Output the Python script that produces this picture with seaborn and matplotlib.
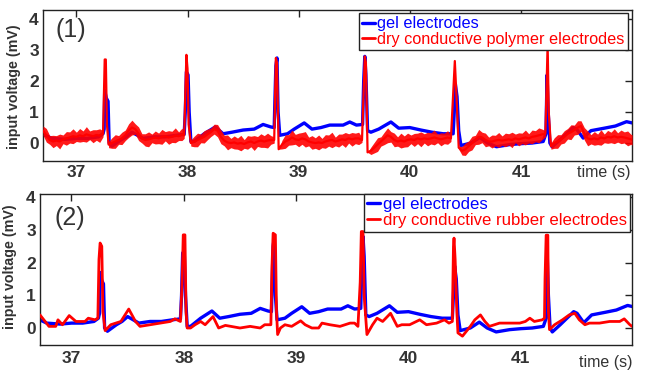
import matplotlib
matplotlib.use("Agg")
import numpy as np
import pandas as pd
import seaborn as sns
import matplotlib.pyplot as plt
from matplotlib.lines import Line2D

# ---------------- data ----------------
gel_t = [36.70, 36.78, 36.90, 37.00, 37.10, 37.20, 37.24, 37.25, 37.255, 37.27, 37.285, 37.295,
         37.32, 37.40, 37.45, 37.50, 37.55, 37.60, 37.70, 37.80, 37.90, 37.97, 37.98, 37.99,
         38.005, 38.015, 38.03, 38.06, 38.15, 38.25, 38.32, 38.40, 38.50, 38.60, 38.68, 38.75,
         38.78, 38.785, 38.795, 38.805, 38.815, 38.83, 38.90, 38.96, 39.05, 39.12, 39.20, 39.28,
         39.40, 39.46, 39.52, 39.575, 39.585, 39.595, 39.605, 39.62, 39.65, 39.72, 39.83, 39.90,
         40.00, 40.10, 40.20, 40.30, 40.39, 40.40, 40.41, 40.425, 40.44, 40.46, 40.55, 40.63,
         40.70, 40.78, 40.90, 41.00, 41.10, 41.20, 41.225, 41.235, 41.245, 41.26, 41.28, 41.35,
         41.47, 41.50, 41.56, 41.63, 41.75, 41.85, 41.95, 42.00]
gel_mv = [0.28, 0.15, 0.12, 0.15, 0.15, 0.20, 0.30, 0.45, 1.70, 1.45, 1.35, 0.00,
          -0.10, 0.10, 0.20, 0.35, 0.25, 0.15, 0.20, 0.20, 0.25, 0.28, 1.00, 2.30,
          2.20, 1.00, 0.05, 0.05, 0.30, 0.52, 0.30, 0.35, 0.42, 0.45, 0.60, 0.52,
          0.50, 1.20, 2.50, 2.75, 1.00, 0.25, 0.30, 0.45, 0.65, 0.45, 0.50, 0.58,
          0.58, 0.68, 0.58, 0.60, 2.00, 2.80, 2.20, 0.40, 0.35, 0.45, 0.68, 0.48,
          0.50, 0.42, 0.35, 0.30, 0.30, 1.00, 1.90, 1.50, 0.40, -0.08, 0.00, 0.18,
          0.00, -0.12, -0.05, -0.02, 0.00, 0.05, 0.30, 2.20, 1.00, 0.00, -0.12, 0.10,
          0.50, 0.45, 0.16, 0.40, 0.48, 0.55, 0.69, 0.65]

# dry conductive polymer electrodes: centre of the noisy trace and half-width of its noise band
polymer_t = [36.70, 36.73, 36.76, 36.79, 36.82, 36.85, 36.88, 36.91, 36.94, 36.97, 37.00, 37.03,
             37.06, 37.09, 37.12, 37.15, 37.18, 37.21, 37.24,
             37.255, 37.265, 37.275, 37.29,
             37.32, 37.35, 37.38, 37.41, 37.44, 37.47, 37.50, 37.53, 37.56, 37.59, 37.62, 37.65,
             37.68, 37.71, 37.74, 37.77, 37.80, 37.83, 37.86, 37.89, 37.92, 37.95, 37.97,
             37.99, 38.00, 38.01, 38.03,
             38.06, 38.09, 38.12, 38.15, 38.18, 38.21, 38.24, 38.27, 38.30, 38.33, 38.36, 38.39,
             38.42, 38.45, 38.48, 38.51, 38.54, 38.57, 38.60, 38.63, 38.66, 38.69, 38.72, 38.75, 38.78,
             38.795, 38.805, 38.82,
             38.85, 38.88, 38.91, 38.94, 38.97, 39.00, 39.03, 39.06, 39.09, 39.12, 39.15, 39.18,
             39.21, 39.24, 39.27, 39.30, 39.33, 39.36, 39.39, 39.42, 39.45, 39.48, 39.51, 39.54, 39.57,
             39.595, 39.605, 39.62,
             39.65, 39.68, 39.71, 39.74, 39.77, 39.80, 39.83, 39.86, 39.89, 39.92, 39.95, 39.98,
             40.01, 40.04, 40.07, 40.10, 40.13, 40.16, 40.19, 40.22, 40.25, 40.28, 40.31, 40.34, 40.37,
             40.405, 40.42, 40.44,
             40.47, 40.50, 40.53, 40.56, 40.59, 40.62, 40.65, 40.68, 40.71, 40.74, 40.77, 40.80,
             40.83, 40.86, 40.89, 40.92, 40.95, 40.98, 41.01, 41.04, 41.07, 41.10, 41.13, 41.16,
             41.19, 41.22,
             41.24, 41.25, 41.27,
             41.30, 41.33, 41.36, 41.39, 41.42, 41.45, 41.48, 41.51, 41.54, 41.57, 41.60, 41.63,
             41.66, 41.69, 41.72, 41.75, 41.78, 41.81, 41.84, 41.87, 41.90, 41.93, 41.96, 41.99, 42.00]
polymer_mv = [0.40, 0.25, 0.10, 0.05, 0.08, 0.05, 0.12, 0.15, 0.18, 0.22, 0.20, 0.25,
              0.22, 0.28, 0.25, 0.22, 0.26, 0.24, 0.30,
              2.70, 2.70, 0.60, -0.05,
              0.00, 0.05, 0.10, 0.15, 0.25, 0.40, 0.50, 0.45, 0.30, 0.15, 0.10, 0.12,
              0.15, 0.18, 0.15, 0.20, 0.22, 0.18, 0.20, 0.25, 0.22, 0.28, 0.25,
              2.85, 2.40, 0.60, 0.00,
              0.05, 0.10, 0.15, 0.20, 0.28, 0.35, 0.45, 0.40, 0.20, 0.08, 0.02, 0.00,
              0.02, -0.02, 0.00, -0.03, 0.02, 0.05, 0.00, 0.05, 0.08, 0.05, 0.08, 0.10, 0.10,
              2.75, 2.60, -0.20,
              -0.05, 0.05, 0.10, 0.18, 0.12, 0.10, 0.15, 0.12, 0.05, 0.02, 0.00, 0.02,
              0.00, 0.05, 0.08, 0.10, 0.05, 0.08, 0.12, 0.10, 0.15, 0.12, 0.15, 0.15, 0.10,
              2.80, 2.60, -0.30,
              -0.25, -0.15, -0.05, 0.05, 0.15, 0.25, 0.20, 0.10, 0.05, 0.08, 0.05, 0.10,
              0.12, 0.10, 0.15, 0.12, 0.15, 0.13, 0.15, 0.18, 0.15, 0.12, 0.15, 0.18, 0.15,
              2.65, 1.50, -0.15,
              -0.25, -0.20, -0.10, 0.00, 0.10, 0.20, 0.18, 0.10, 0.05, 0.05, 0.08, 0.10,
              0.08, 0.10, 0.12, 0.10, 0.15, 0.12, 0.15, 0.18, 0.15, 0.20, 0.22, 0.25,
              0.28, 0.30,
              3.20, 1.00, -0.10,
              0.00, 0.05, 0.12, 0.20, 0.30, 0.35, 0.42, 0.50, 0.55, 0.30, 0.15, 0.12,
              0.15, 0.12, 0.18, 0.15, 0.20, 0.18, 0.22, 0.18, 0.20, 0.18, 0.15, 0.12, 0.10]
polymer_noise = [0.15, 0.22, 0.14, 0.20, 0.16, 0.24, 0.14, 0.22, 0.18, 0.24, 0.15, 0.22,
                 0.17, 0.25, 0.14, 0.21, 0.17, 0.22, 0.10,
                 0.00, 0.00, 0.00, 0.10,
                 0.17, 0.22, 0.14, 0.20, 0.17, 0.22, 0.24, 0.17, 0.22, 0.15, 0.20, 0.24,
                 0.14, 0.21, 0.17, 0.24, 0.15, 0.22, 0.18, 0.24, 0.14, 0.20, 0.10,
                 0.00, 0.00, 0.00, 0.10,
                 0.17, 0.22, 0.14, 0.20, 0.17, 0.14, 0.16, 0.20, 0.22, 0.17, 0.24, 0.15,
                 0.21, 0.18, 0.25, 0.14, 0.22, 0.17, 0.24, 0.16, 0.22, 0.19, 0.24, 0.14, 0.10,
                 0.00, 0.00, 0.00,
                 0.14, 0.22, 0.17, 0.24, 0.16, 0.22, 0.19, 0.25, 0.14, 0.22, 0.17, 0.24,
                 0.15, 0.22, 0.18, 0.25, 0.14, 0.21, 0.17, 0.24, 0.15, 0.22, 0.17, 0.20, 0.08,
                 0.00, 0.00, 0.00,
                 0.12, 0.17, 0.22, 0.15, 0.20, 0.24, 0.17, 0.22, 0.15, 0.24, 0.18, 0.22,
                 0.14, 0.21, 0.17, 0.24, 0.15, 0.22, 0.18, 0.24, 0.14, 0.21, 0.17, 0.22, 0.10,
                 0.00, 0.00, 0.05,
                 0.14, 0.20, 0.17, 0.22, 0.15, 0.24, 0.17, 0.22, 0.14, 0.21, 0.17, 0.24,
                 0.15, 0.22, 0.18, 0.25, 0.14, 0.21, 0.17, 0.24, 0.15, 0.22, 0.18, 0.24,
                 0.17, 0.10,
                 0.00, 0.00, 0.10,
                 0.17, 0.22, 0.15, 0.20, 0.17, 0.24, 0.16, 0.22, 0.17, 0.20, 0.24, 0.15,
                 0.22, 0.17, 0.25, 0.14, 0.21, 0.17, 0.24, 0.15, 0.22, 0.18, 0.24, 0.16, 0.17]

rubber_t = [36.72, 36.80, 36.86, 36.88, 36.92, 36.98, 37.04, 37.12, 37.15, 37.21, 37.235, 37.245,
            37.255, 37.27, 37.28, 37.30, 37.35, 37.44, 37.51, 37.57, 37.61, 37.70, 37.79, 37.88,
            37.92, 37.97, 37.985, 37.995, 38.01, 38.02, 38.03, 38.06, 38.10, 38.15, 38.19, 38.26,
            38.31, 38.37, 38.50, 38.59, 38.68, 38.72, 38.775, 38.785, 38.795, 38.815, 38.825, 38.835,
            38.86, 38.90, 38.96, 39.04, 39.08, 39.14, 39.20, 39.23, 39.30, 39.39, 39.48, 39.52,
            39.55, 39.57, 39.58, 39.595, 39.605, 39.63, 39.68, 39.72, 39.77, 39.84, 39.90, 39.94,
            40.01, 40.10, 40.16, 40.25, 40.32, 40.36, 40.39, 40.40, 40.405, 40.415, 40.43, 40.44,
            40.48, 40.55, 40.59, 40.64, 40.68, 40.72, 40.81, 40.99, 41.04, 41.08, 41.12, 41.19,
            41.21, 41.215, 41.225, 41.24, 41.245, 41.255, 41.30, 41.37, 41.43, 41.48, 41.52, 41.57,
            41.61, 41.70, 41.79, 41.88, 41.92, 41.97, 41.99]
rubber_mv = [0.40, 0.05, 0.05, 0.25, 0.10, 0.38, 0.20, 0.20, 0.30, 0.25, 0.30, 2.10,
             2.60, 2.50, 0.50, -0.08, 0.10, 0.20, 0.58, 0.20, 0.05, 0.10, 0.15, 0.20,
             0.28, 0.20, 1.40, 2.85, 2.85, 0.50, 0.00, 0.00, 0.10, 0.20, 0.10, 0.35,
             0.00, 0.08, 0.00, 0.05, 0.00, 0.10, 0.10, 1.90, 2.90, 2.85, 0.50, -0.20,
             0.00, 0.10, 0.05, 0.22, 0.10, 0.00, 0.00, 0.15, 0.10, 0.05, 0.15, 0.15,
             0.05, 1.40, 2.95, 2.95, 1.00, -0.20, 0.10, 0.30, 0.20, 0.45, 0.05, 0.10,
             0.10, 0.25, 0.10, 0.15, 0.25, 0.15, 0.20, 2.50, 2.75, 2.10, 0.50, -0.15,
             -0.25, 0.05, 0.25, 0.40, 0.20, 0.05, 0.15, 0.15, 0.20, 0.30, 0.20, 0.25,
             0.30, 1.50, 2.84, 2.84, 0.50, -0.05, 0.10, 0.25, 0.40, 0.45, 0.25, 0.10,
             0.15, 0.15, 0.20, 0.20, 0.28, 0.10, 0.05]

x_ticks = [37, 38, 39, 40, 41]
y_ticks = [0, 1, 2, 3, 4]
panel_tags = ["(1)", "(2)"]
legend_labels_1 = ["gel electrodes", "dry conductive polymer electrodes"]
legend_labels_2 = ["gel electrodes", "dry conductive rubber electrodes"]

# ---------------- style ----------------
sns.set_theme(style="white")
plt.rcParams['font.family'] = ['Liberation Sans', 'DejaVu Sans']
TXT = '#333333'
BLUE = '#0000ff'
RED = '#ff0000'

fig = plt.figure(figsize=(6.45, 3.75), dpi=100)
ax1 = fig.add_axes([0.0667, 0.5707, 0.9133, 0.4027])
ax2 = fig.add_axes([0.062, 0.080, 0.918, 0.4027])

# panel 1
sns.lineplot(x=gel_t, y=gel_mv, ax=ax1, color=BLUE, lw=2.4, estimator=None, sort=False, zorder=2)
lo = np.array(polymer_mv) - np.array(polymer_noise)
hi = np.array(polymer_mv) + np.array(polymer_noise)
ax1.fill_between(polymer_t, lo, hi, color=RED, alpha=0.9, lw=0, zorder=3)
sns.lineplot(x=polymer_t, y=polymer_mv, ax=ax1, color=RED, lw=1.6, estimator=None, sort=False, zorder=4)

# panel 2
sns.lineplot(x=gel_t, y=gel_mv, ax=ax2, color=BLUE, lw=2.4, estimator=None, sort=False, zorder=2)
sns.lineplot(x=rubber_t, y=rubber_mv, ax=ax2, color=RED, lw=2.0, estimator=None, sort=False, zorder=3)

limits = [((36.70, 42.0), (-0.58, 4.30)), ((36.72, 41.99), (-0.52, 4.10))]
labels = [legend_labels_1, legend_labels_2]
leg_anchor = [(0.993, 0.98), (0.997, 1.0)]
leg_size = [11.7, 12.1]
tag_pos = [(0.022, 0.87), (0.025, 0.84)]
ylab_pos = [(-0.038, 0.49), (-0.039, 0.52)]
tlab_pos = [(0.997, -0.075), (1.0, -0.115)]
xpad = [3.0, 4.0]

for i, ax in enumerate([ax1, ax2]):
    ax.set_xlim(*limits[i][0])
    ax.set_ylim(*limits[i][1])
    ax.set_xticks(x_ticks)
    ax.set_yticks(y_ticks)
    ax.set_xticklabels([str(v) for v in x_ticks])
    ax.set_yticklabels([str(v) for v in y_ticks])
    ax.tick_params(direction='in', top=True, right=True, length=5, width=1,
                   color='#222222', labelsize=12.5, labelcolor=TXT)
    ax.tick_params(axis='x', pad=xpad[i])
    ax.tick_params(axis='y', pad=3)
    plt.setp(ax.get_xticklabels(), fontweight='bold')
    plt.setp(ax.get_yticklabels(), fontweight='bold')
    for s in ax.spines.values():
        s.set_visible(True)
        s.set_color('#222222')
        s.set_linewidth(1.0)
    ax.set_xlabel('')
    ax.set_ylabel('input voltage (mV)', fontsize=10.3, fontweight='bold', color=TXT)
    ax.yaxis.set_label_coords(*ylab_pos[i])
    ax.text(*tlab_pos[i], 'time (s)', transform=ax.transAxes, ha='right', va='center',
            fontsize=11.5, color=TXT)
    ax.text(*tag_pos[i], panel_tags[i], transform=ax.transAxes, ha='left', va='center',
            fontsize=18, color=TXT)
    handles = [Line2D([0], [0], color=BLUE, lw=2.4), Line2D([0], [0], color=RED, lw=2.0)]
    leg = ax.legend(handles, labels[i], loc='upper right', bbox_to_anchor=leg_anchor[i],
                    fontsize=leg_size[i], handlelength=0.8, handletextpad=0.15, borderpad=0.2,
                    labelspacing=0.05, borderaxespad=0.0, fancybox=False, framealpha=1,
                    edgecolor='#222222')
    leg.get_frame().set_linewidth(1.0)
    leg.set_zorder(10)
    for t, c in zip(leg.get_texts(), [BLUE, RED]):
        t.set_color(c)

fig.savefig('out.png', dpi=100)
